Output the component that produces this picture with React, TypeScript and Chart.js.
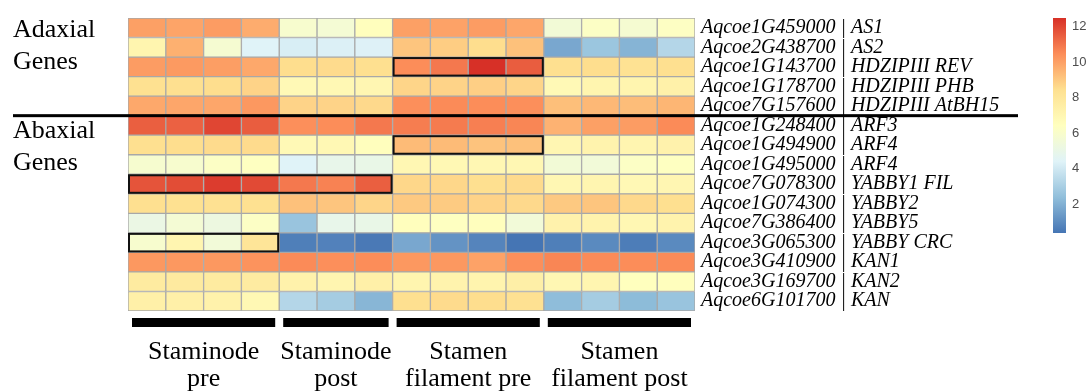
import React, { useEffect, useRef } from "react";
import { Chart, registerables } from "chart.js";

Chart.register(...registerables);

// Gene rows, top to bottom
const genes = [
  "Aqcoe1G459000 | AS1",
  "Aqcoe2G438700 | AS2",
  "Aqcoe1G143700 | HDZIPIII REV",
  "Aqcoe1G178700 | HDZIPIII PHB",
  "Aqcoe7G157600 | HDZIPIII AtBH15",
  "Aqcoe1G248400 | ARF3",
  "Aqcoe1G494900 | ARF4",
  "Aqcoe1G495000 | ARF4",
  "Aqcoe7G078300 | YABBY1 FIL",
  "Aqcoe1G074300 | YABBY2",
  "Aqcoe7G386400 | YABBY5",
  "Aqcoe3G065300 | YABBY CRC",
  "Aqcoe3G410900 | KAN1",
  "Aqcoe3G169700 | KAN2",
  "Aqcoe6G101700 | KAN",
];

// Expression (log2) per gene row, one column per replicate
const staminodePre = [
  [10.0, 9.9, 10.1, 9.7],
  [7.1, 9.6, 5.8, 4.4],
  [10.1, 10.15, 10.05, 9.8],
  [8.4, 8.45, 8.5, 8.75],
  [9.8, 9.85, 9.85, 10.2],
  [11.45, 11.4, 12.0, 11.5],
  [8.45, 8.5, 8.55, 8.55],
  [5.85, 5.9, 6.2, 6.35],
  [11.7, 11.85, 12.2, 11.9],
  [8.45, 8.4, 8.35, 8.4],
  [5.1, 5.7, 5.25, 6.2],
  [5.9, 7.05, 5.55, 8.1],
  [10.2, 10.2, 10.2, 10.3],
  [7.75, 7.8, 7.75, 7.7],
  [7.4, 7.4, 7.3, 6.9],
];

const staminodePost = [
  [5.9, 5.7, 6.5],
  [4.2, 4.3, 4.35],
  [8.5, 8.55, 8.45],
  [6.8, 6.9, 7.0],
  [8.75, 8.75, 8.6],
  [10.4, 10.45, 10.9],
  [6.8, 6.9, 6.5],
  [4.4, 4.9, 5.0],
  [10.9, 10.7, 11.45],
  [9.2, 9.1, 8.7],
  [2.6, 4.9, 5.0],
  [0.64, 0.72, 0.5],
  [10.5, 10.4, 10.45],
  [7.3, 7.05, 7.4],
  [3.3, 2.9, 2.15],
];

const filamentPre = [
  [10.0, 9.95, 10.1, 9.85],
  [9.1, 8.9, 8.5, 9.2],
  [10.45, 10.9, 12.47, 11.5],
  [8.7, 8.75, 8.85, 8.7],
  [10.4, 10.5, 10.45, 10.4],
  [10.8, 10.85, 10.75, 10.6],
  [9.35, 9.35, 9.15, 9.2],
  [6.95, 6.9, 6.95, 6.95],
  [8.65, 8.65, 8.45, 8.55],
  [9.0, 8.95, 8.75, 8.6],
  [6.5, 6.35, 6.5, 5.55],
  [1.75, 1.2, 0.8, 0.38],
  [10.2, 10.2, 9.95, 10.4],
  [7.1, 7.2, 7.15, 7.45],
  [8.45, 8.55, 8.5, 8.35],
];

const filamentPost = [
  [5.6, 6.2, 5.8, 6.3],
  [1.75, 2.65, 2.1, 3.3],
  [8.45, 8.5, 8.3, 8.45],
  [6.8, 7.1, 7.1, 7.35],
  [9.25, 9.4, 9.3, 9.45],
  [9.55, 10.0, 10.1, 10.5],
  [7.0, 7.2, 7.05, 7.25],
  [5.6, 5.55, 6.2, 6.35],
  [6.95, 7.05, 6.85, 7.0],
  [9.0, 9.1, 8.6, 8.45],
  [7.25, 7.2, 6.95, 7.2],
  [0.64, 0.94, 0.6, 0.95],
  [10.6, 10.5, 10.45, 10.5],
  [6.95, 7.05, 6.45, 6.5],
  [2.35, 2.9, 2.3, 2.6],
];

const groupNames = [
  ["Staminode", "pre"],
  ["Staminode", "post"],
  ["Stamen", "filament pre"],
  ["Stamen", "filament post"],
];

// Gene classes: label lines and the last row index of each class
const classLabels = [
  ["Adaxial", "Genes"],
  ["Abaxial", "Genes"],
];
const classLastRow = [4, 14];

// Cells outlined in black: gene row, first and last column
const outlinedCells = [
  { gene: 2, from: 7, to: 10 },
  { gene: 6, from: 7, to: 10 },
  { gene: 8, from: 0, to: 6 },
  { gene: 11, from: 0, to: 3 },
];

const colorbarTicks = [2, 4, 6, 8, 10, 12];

// Reversed RdYlBu ramp (low = blue, high = red)
const palette = ["#4575B4", "#91BFDB", "#E0F3F8", "#FFFFBF", "#FEE090", "#FC8D59", "#D73027"];

const groups = [staminodePre, staminodePost, filamentPre, filamentPost];
const groupSizes = groups.map((g) => g[0].length);
const columns: number[][] = groups.flatMap((g) => g[0].map((_, c) => g.map((row) => row[c])));
const allValues = columns.flat();
const valueMin = Math.min(...allValues);
const valueMax = Math.max(...allValues);

const hexToRgb = (h: string) => [1, 3, 5].map((i) => parseInt(h.slice(i, i + 2), 16));
const paletteRgb = palette.map(hexToRgb);

function heatColor(v: number): string {
  const t = Math.max(0, Math.min(1, (v - valueMin) / (valueMax - valueMin)));
  const pos = t * (paletteRgb.length - 1);
  const i = Math.min(paletteRgb.length - 2, Math.floor(pos));
  const f = pos - i;
  const a = paletteRgb[i];
  const b = paletteRgb[i + 1];
  const c = a.map((x, k) => Math.round(x + (b[k] - x) * f));
  return `rgb(${c[0]},${c[1]},${c[2]})`;
}

const SERIF = "'Liberation Serif', 'Times New Roman', serif";

const annotations = {
  id: "annotations",
  afterDatasetsDraw(chart: any) {
    const { ctx, scales } = chart;
    const x = scales.x;
    const y = scales.y;
    const half = (y.getPixelForValue(1) - y.getPixelForValue(0)) / 2;
    ctx.save();
    ctx.strokeStyle = "#111";
    ctx.lineWidth = 2;
    outlinedCells.forEach((o) => {
      const x0 = x.getPixelForValue(o.from);
      const x1 = x.getPixelForValue(o.to + 1);
      const yc = y.getPixelForValue(o.gene);
      ctx.strokeRect(x0 + 1, yc - half + 1, x1 - x0 - 2, 2 * half - 2);
    });
    ctx.restore();
  },
  afterDraw(chart: any) {
    const { ctx, scales, chartArea } = chart;
    const x = scales.x;
    const y = scales.y;
    ctx.save();

    // class separators and labels
    ctx.font = `26px ${SERIF}`;
    ctx.fillStyle = "#000";
    ctx.textAlign = "left";
    ctx.textBaseline = "middle";
    let top = chartArea.top;
    classLastRow.forEach((last, k) => {
      const labelTop = k === 0 ? top + 12 : top + 16;
      classLabels[k].forEach((line, i) => ctx.fillText(line, 13, labelTop + i * 32));
      if (k < classLastRow.length - 1) {
        const sep = (y.getPixelForValue(last) + y.getPixelForValue(last + 1)) / 2;
        ctx.fillRect(13, sep - 1.5, 1005, 3);
        top = sep;
      }
    });

    // column group bars and names
    let start = 0;
    ctx.textAlign = "center";
    ctx.textBaseline = "alphabetic";
    groupSizes.forEach((n, k) => {
      const x0 = x.getPixelForValue(start) + 4;
      const x1 = x.getPixelForValue(start + n) - 4;
      ctx.fillStyle = "#000";
      ctx.fillRect(x0, chartArea.bottom + 7, x1 - x0, 9);
      const cx = (x0 + x1) / 2;
      groupNames[k].forEach((line, i) => ctx.fillText(line, cx, 359 + i * 27));
      start += n;
    });
    ctx.restore();
  },
};

export default function App() {
  const heatRef = useRef<HTMLCanvasElement>(null);
  const barRef = useRef<HTMLCanvasElement>(null);

  useEffect(() => {
    const datasets = columns.map((col, j) => ({
      data: col.map(() => [j, j + 1]),
      backgroundColor: col.map((v) => heatColor(v)),
      borderColor: "#A8A8A8",
      borderWidth: 1,
      borderSkipped: false,
      grouped: false,
      barPercentage: 1,
      categoryPercentage: 1,
    }));

    const heat = new Chart(heatRef.current!, {
      type: "bar",
      data: { labels: genes, datasets: datasets as any },
      plugins: [annotations],
      options: {
        indexAxis: "y",
        responsive: false,
        animation: false,
        events: [],
        layout: { padding: { left: 128, top: 16, bottom: 80, right: 0 } },
        plugins: { legend: { display: false }, tooltip: { enabled: false } },
        scales: {
          x: { type: "linear", min: 0, max: columns.length, display: false },
          y: {
            type: "category",
            position: "right",
            grid: { display: false, drawTicks: false },
            border: { display: false },
            ticks: {
              autoSkip: false,
              padding: 6,
              color: "#000",
              font: { family: SERIF, size: 20, style: "italic" },
            },
            afterFit: (s: any) => {
              s.width = 395;
            },
          },
        },
      } as any,
    });

    const bar = new Chart(barRef.current!, {
      type: "bar",
      data: {
        labels: [""],
        datasets: [
          {
            data: [[valueMin, valueMax]] as any,
            borderWidth: 0,
            barPercentage: 1,
            categoryPercentage: 1,
            backgroundColor: (c: any) => {
              const ch = c.chart;
              if (!ch.chartArea) return palette[3];
              const ys = ch.scales.y;
              const g = ch.ctx.createLinearGradient(0, ys.getPixelForValue(valueMin), 0, ys.getPixelForValue(valueMax));
              palette.forEach((col, i) => g.addColorStop(i / (palette.length - 1), col));
              return g;
            },
          },
        ],
      },
      options: {
        responsive: false,
        animation: false,
        events: [],
        layout: { padding: { left: 13, top: 18, bottom: 27, right: 0 } },
        plugins: { legend: { display: false }, tooltip: { enabled: false } },
        scales: {
          x: { display: false },
          y: {
            type: "linear",
            position: "right",
            min: valueMin,
            max: valueMax,
            grid: { display: false, drawTicks: false },
            border: { display: false },
            afterBuildTicks: (s: any) => {
              s.ticks = colorbarTicks.map((v) => ({ value: v }));
            },
            ticks: {
              padding: 6,
              color: "#4D4D4D",
              font: { family: "'Liberation Sans', Arial, sans-serif", size: 13 },
            },
            afterFit: (s: any) => {
              s.width = 24;
            },
          },
        },
      } as any,
    });

    return () => {
      heat.destroy();
      bar.destroy();
    };
  }, []);

  return (
    <div style={{ position: "absolute", left: 0, top: 0, width: 1090, height: 391, background: "#fff", overflow: "hidden" }}>
      <canvas ref={heatRef} width={1090} height={391} style={{ position: "absolute", left: 0, top: 0 }} />
      <canvas ref={barRef} width={50} height={260} style={{ position: "absolute", left: 1040, top: 0 }} />
    </div>
  );
}
